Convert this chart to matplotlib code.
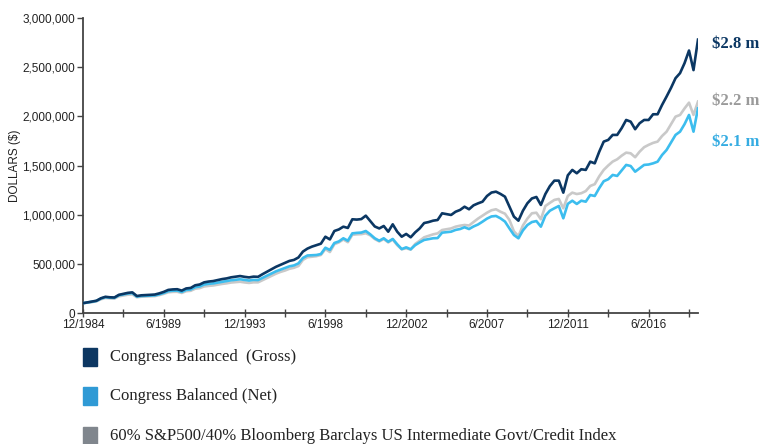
import numpy as np
import matplotlib
matplotlib.use("Agg")
from matplotlib import pyplot as plt
from matplotlib.patches import Rectangle
from matplotlib.ticker import FuncFormatter

# Quarterly growth of $100,000, 12/1984 .. 3/2019 (values in $ thousands)
gross = [100, 108, 115, 125, 150, 165, 160, 158, 185, 195, 205, 210, 173, 180, 182, 185,
         188, 200, 215, 235, 240, 242, 228, 250, 255, 282, 290, 312, 320, 325, 335, 345,
         352, 363, 370, 376, 368, 362, 370, 368, 395, 420, 445, 470, 490, 510, 530, 540,
         565, 625, 655, 675, 690, 705, 776, 748, 834, 850, 878, 865, 953, 950, 955, 990,
         935, 880, 860, 885, 827, 902, 827, 776, 804, 770, 820, 860, 915, 925, 939, 946,
         1014, 1005, 997, 1030, 1048, 1081, 1055, 1095, 1115, 1132, 1190, 1225, 1234, 1211, 1183, 1081,
         980, 939, 1040, 1116, 1165, 1180, 1099, 1210, 1290, 1346, 1346, 1224, 1400, 1455, 1421, 1462,
         1455, 1539, 1522, 1640, 1743, 1760, 1811, 1811, 1880, 1963, 1946, 1869, 1930, 1963, 1963, 2021,
         2021, 2116, 2201, 2290, 2388, 2439, 2540, 2669, 2470, 2780]

net = [100, 107, 114, 123, 147, 161, 156, 154, 180, 189, 198, 203, 167, 173, 175, 177,
       179, 190, 204, 222, 227, 228, 214, 235, 239, 263, 270, 290, 297, 301, 309, 318,
       324, 333, 338, 343, 336, 330, 337, 335, 358, 380, 402, 424, 441, 458, 475, 484,
       505, 560, 585, 588, 590, 600, 664, 641, 712, 728, 760, 735, 810, 815, 818, 834,
       800, 760, 735, 760, 725, 753, 699, 650, 668, 648, 690, 718, 743, 752, 760, 762,
       817, 822, 827, 845, 854, 872, 854, 880, 900, 929, 960, 982, 987, 963, 930, 860,
       793, 760, 840, 895, 925, 935, 878, 990, 1040, 1065, 1088, 963, 1110, 1142, 1109, 1142,
       1132, 1200, 1190, 1270, 1340, 1360, 1404, 1394, 1450, 1506, 1495, 1437, 1472, 1506, 1510, 1522,
       1539, 1607, 1658, 1735, 1811, 1844, 1920, 2014, 1844, 2082]

index = [100, 105, 111, 119, 140, 153, 149, 147, 170, 178, 186, 190, 160, 166, 168, 170,
         172, 182, 195, 211, 215, 216, 204, 222, 226, 247, 253, 270, 276, 280, 288, 296,
         302, 310, 314, 318, 311, 306, 312, 312, 334, 356, 378, 400, 418, 432, 450, 460,
         478, 540, 567, 573, 578, 590, 650, 620, 700, 718, 748, 720, 795, 800, 802, 811,
         790, 752, 728, 752, 718, 748, 690, 648, 658, 645, 702, 735, 770, 785, 800, 810,
         844, 852, 860, 878, 888, 895, 890, 925, 960, 990, 1020, 1045, 1055, 1030, 1010, 946,
         830, 783, 890, 960, 1014, 1020, 953, 1088, 1120, 1150, 1160, 1065, 1190, 1224, 1210, 1218,
         1240, 1292, 1310, 1390, 1455, 1500, 1540, 1563, 1600, 1631, 1624, 1584, 1641, 1686, 1710, 1730,
         1743, 1800, 1844, 1920, 1997, 2014, 2080, 2139, 2014, 2150]

tick_labels = ["12/1984", "6/1989", "12/1993", "6/1998", "12/2002", "6/2007", "12/2011", "6/2016"]
series_names = ["Congress Balanced  (Gross)", "Congress Balanced (Net)",
                "60% S&P500/40% Bloomberg Barclays US Intermediate Govt/Credit Index"]
end_labels = ["$2.8 m", "$2.2 m", "$2.1 m"]

c_gross = "#0b3763"
c_net = "#3cbdee"
c_index = "#c9c9c9"

plt.rcParams['font.family'] = ['Liberation Sans', 'DejaVu Sans']

fig = plt.figure(figsize=(7.64, 4.44), dpi=100)
ax = fig.add_axes([0.1086, 0.295, 0.805, 0.6645])

q = np.arange(len(gross))
ax.plot(q, np.array(index) * 1000, color=c_index, lw=1.9, zorder=2)
ax.plot(q, np.array(net) * 1000, color=c_net, lw=1.9, zorder=3)
ax.plot(q, np.array(gross) * 1000, color=c_gross, lw=1.9, zorder=4)

ax.set_xlim(0, len(gross) - 1)
ax.set_ylim(0, 3000000)
ax.set_yticks(np.arange(0, 3000001, 500000))
ax.yaxis.set_major_formatter(FuncFormatter(lambda v, p: f"{int(v):,}"))
ax.set_xticks(np.arange(0, 18 * len(tick_labels), 18))
ax.set_xticklabels(tick_labels)
ax.set_xticks(np.arange(9, len(gross), 18), minor=True)

for s in ["top", "right"]:
    ax.spines[s].set_visible(False)
for s in ["left", "bottom"]:
    ax.spines[s].set_color("#444444")
    ax.spines[s].set_linewidth(1.3)
ax.tick_params(axis="y", length=4, width=1, color="#444444", labelsize=8.5, pad=1.5, labelcolor="#222222")
ax.tick_params(axis="x", which="both", direction="inout", length=6, width=1, color="#444444",
               labelsize=8.5, pad=1.5, labelcolor="#222222")
for lab in ax.get_yticklabels():
    lab.set_verticalalignment("center_baseline")
ax.set_ylabel("DOLLARS ($)", fontsize=8.5, color="#222222", labelpad=1)

# end value labels
serif = ['Liberation Serif', 'DejaVu Serif']
fig.text(0.932, 0.902, end_labels[0], color=c_gross, fontsize=12, fontweight="bold", family=serif, va="center")
fig.text(0.932, 0.772, end_labels[1], color="#9a9a9a", fontsize=12, fontweight="bold", family=serif, va="center")
fig.text(0.932, 0.681, end_labels[2], color="#35ace2", fontsize=12, fontweight="bold", family=serif, va="center")

# legend
patch_colors = ["#0d3762", "#2f9ad5", "#80868d"]
rows_y = [357, 396, 436]
for col, name, yp in zip(patch_colors, series_names, rows_y):
    fig.patches.append(Rectangle((83 / 764, 1 - (yp + 9) / 444), 14 / 764, 18 / 444,
                                 transform=fig.transFigure, color=col))
    fig.text(110 / 764, 1 - yp / 444, name, fontsize=12, family=serif, color="#222222", va="center")

fig.savefig("out.png", dpi=100)
